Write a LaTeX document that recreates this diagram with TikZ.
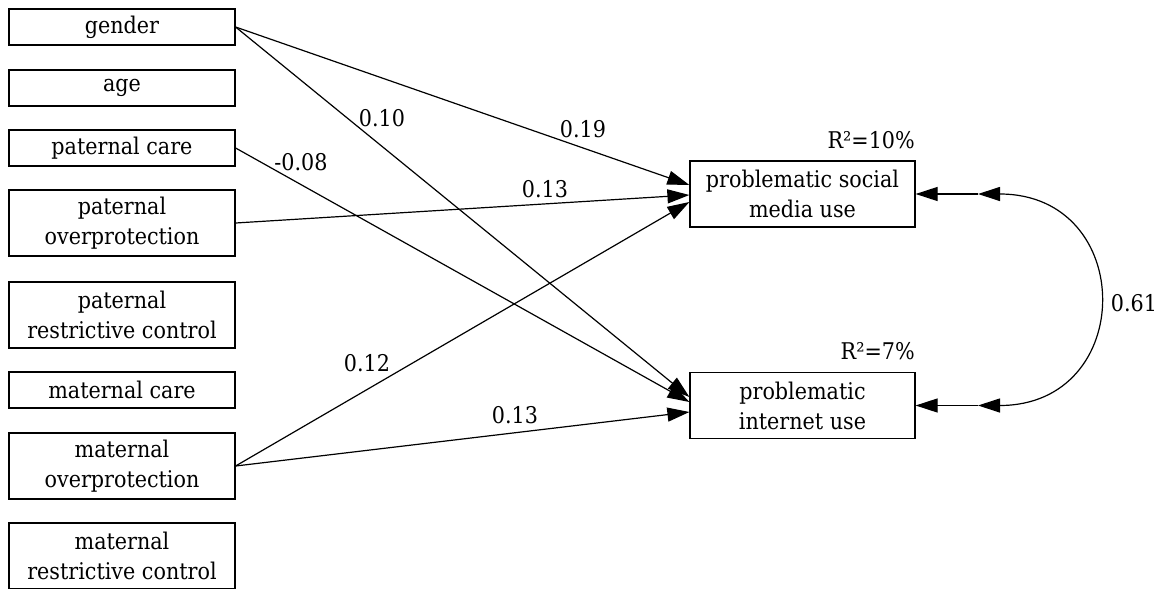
\documentclass[tikz,border=0pt]{standalone}
\usepackage{fontspec}
\setmainfont{DejaVu Serif}[FakeStretch=0.9]
\usetikzlibrary{arrows.meta,calc}
\begin{document}
\begin{tikzpicture}[x=1pt,y=-1pt,
  every node/.style={font=\fontsize{23}{30}\selectfont},
  var/.style={draw,line width=1.2pt,rectangle,align=center,inner sep=0pt,minimum width=226pt},
  one/.style={var,minimum height=36pt},
  two/.style={var,minimum height=66pt},
  outc/.style={var,minimum width=225pt,minimum height=66pt},
  lbl/.style={inner sep=0pt},
  arr/.style={line width=1.2pt,-{Triangle[length=22pt,width=14pt]}},
  darr/.style={line width=1.2pt,{Triangle[length=22pt,width=14pt]}-{Triangle[length=22pt,width=14pt]}}
]
\useasboundingbox (0,0) rectangle (1165,589);
\node[one] (gender) at (122,27) {gender};
\node[one] (age) at (122,88) {age};
\node[one] (pcare) at (122,148) {paternal care};
\node[two] (pover) at (122,223) {paternal\\overprotection};
\node[two] (prest) at (122,315) {paternal\\restrictive control};
\node[one] (mcare) at (122,390) {maternal care};
\node[two] (mover) at (122,466) {maternal\\overprotection};
\node[two] (mrest) at (122,556) {maternal\\restrictive control};
\node[outc] (soc) at (802.5,194) {problematic social\\media use};
\node[outc] (int) at (802.5,405.5) {problematic\\internet use};
\node[lbl,anchor=base east] (r1) at (915,148) {R²=10\%};
\node[lbl,anchor=base east] (r2) at (915,359) {R²=7\%};
% paths
\draw[arr] (gender.east) -- ($(soc.west)+(0,-9)$);
\draw[arr] (gender.east) -- ($(int.west)+(0,-8.5)$);
\draw[arr] (pcare.east) -- ($(int.west)+(0,-3.5)$);
\draw[arr] (pover.east) -- ($(soc.west)+(0,1)$);
\draw[arr] (mover.east) -- ($(soc.west)+(0,8)$);
\draw[arr] (mover.east) -- ($(int.west)+(0,6.5)$);
\node[lbl] (l1) at (583,129) {0.19};
\node[lbl] (l2) at (382,118) {0.10};
\node[lbl] (l3) at (301,162) {-0.08};
\node[lbl] (l4) at (545,189) {0.13};
\node[lbl] (l5) at (367,363) {0.12};
\node[lbl] (l6) at (515,415) {0.13};
% covariance
\coordinate (a1) at (978,194);
\coordinate (a2) at (978,405.5);
\draw[darr] (a1) .. controls (1137,194) and (1137,405.5) .. (a2);
\draw[arr] (a1) -- (soc.east);
\draw[arr] (a2) -- (int.east);
\node[lbl] (l7) at (1134,303) {0.61};
\end{tikzpicture}
\end{document}
